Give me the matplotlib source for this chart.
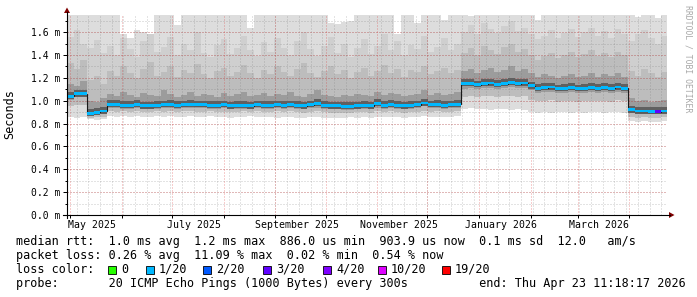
import datetime as dt
import numpy as np
import pandas as pd
import matplotlib
matplotlib.use("Agg")
import matplotlib.pyplot as plt
import matplotlib.dates as mdates
from matplotlib.patches import Polygon, Rectangle
from matplotlib.lines import Line2D

# ---------------- data (milliseconds), one sample per 4 days ----------------
series_start = dt.datetime(2025, 4, 29, 4, 0)
series_end = dt.datetime(2026, 4, 23, 11, 18, 17)
step_days = 4

median = [1.04, 1.06, 1.06, 0.89, 0.90, 0.91, 0.97, 0.97, 0.96, 0.96,
          0.97, 0.955, 0.955, 0.96, 0.965, 0.97, 0.96, 0.965, 0.97, 0.965,
          0.965, 0.96, 0.96, 0.965, 0.955, 0.96, 0.96, 0.955, 0.965, 0.96,
          0.96, 0.965, 0.96, 0.965, 0.96, 0.955, 0.965, 0.975, 0.96, 0.955,
          0.955, 0.95, 0.95, 0.955, 0.96, 0.955, 0.975, 0.96, 0.97, 0.96,
          0.955, 0.96, 0.965, 0.98, 0.965, 0.97, 0.96, 0.965, 0.97, 1.15,
          1.15, 1.14, 1.15, 1.155, 1.145, 1.15, 1.16, 1.15, 1.155, 1.13,
          1.11, 1.115, 1.12, 1.105, 1.11, 1.115, 1.105, 1.11, 1.115, 1.11,
          1.115, 1.11, 1.12, 1.11, 0.92, 0.91, 0.91, 0.905, 0.905, 0.91]

loss = [1] * 88 + [3, 1]

ping_min = [0.86, 0.85, 0.86, 0.84, 0.83, 0.84, 0.87, 0.86, 0.87, 0.86,
            0.87, 0.86, 0.86, 0.87, 0.86, 0.87, 0.86, 0.86, 0.87, 0.86,
            0.86, 0.87, 0.86, 0.86, 0.85, 0.86, 0.86, 0.87, 0.86, 0.86,
            0.86, 0.85, 0.86, 0.86, 0.85, 0.85, 0.86, 0.86, 0.85, 0.85,
            0.85, 0.85, 0.86, 0.85, 0.86, 0.85, 0.86, 0.86, 0.86, 0.86,
            0.85, 0.86, 0.86, 0.87, 0.86, 0.86, 0.86, 0.86, 0.87, 0.93,
            0.94, 0.93, 0.93, 0.92, 0.93, 0.93, 0.92, 0.93, 0.92, 0.90,
            0.89, 0.90, 0.89, 0.90, 0.90, 0.89, 0.90, 0.89, 0.90, 0.90,
            0.89, 0.90, 0.90, 0.89, 0.82, 0.81, 0.82, 0.81, 0.81, 0.82]

ping_lo = [0.95, 0.96, 0.96, 0.85, 0.86, 0.86, 0.91, 0.90, 0.91, 0.90,
           0.91, 0.90, 0.90, 0.91, 0.90, 0.91, 0.90, 0.91, 0.91, 0.90,
           0.90, 0.91, 0.90, 0.90, 0.90, 0.90, 0.91, 0.90, 0.91, 0.90,
           0.90, 0.91, 0.90, 0.91, 0.90, 0.89, 0.90, 0.91, 0.90, 0.89,
           0.89, 0.89, 0.89, 0.90, 0.90, 0.89, 0.91, 0.90, 0.91, 0.90,
           0.89, 0.90, 0.90, 0.91, 0.90, 0.91, 0.90, 0.90, 0.91, 1.03,
           1.04, 1.03, 1.04, 1.04, 1.03, 1.04, 1.04, 1.03, 1.04, 1.01,
           1.00, 1.00, 1.01, 0.99, 1.00, 1.00, 0.99, 1.00, 1.00, 1.00,
           1.00, 0.99, 1.01, 1.00, 0.86, 0.85, 0.86, 0.85, 0.85, 0.86]

ping_lo2 = [1.01, 1.03, 1.03, 0.87, 0.88, 0.88, 0.94, 0.94, 0.93, 0.93,
            0.94, 0.93, 0.93, 0.93, 0.94, 0.94, 0.93, 0.94, 0.94, 0.94,
            0.94, 0.93, 0.93, 0.94, 0.93, 0.93, 0.93, 0.93, 0.94, 0.93,
            0.93, 0.94, 0.93, 0.94, 0.93, 0.93, 0.94, 0.94, 0.93, 0.93,
            0.93, 0.92, 0.92, 0.93, 0.93, 0.93, 0.94, 0.93, 0.94, 0.93,
            0.93, 0.93, 0.94, 0.95, 0.94, 0.94, 0.93, 0.94, 0.94, 1.10,
            1.11, 1.10, 1.11, 1.11, 1.10, 1.11, 1.12, 1.11, 1.11, 1.09,
            1.07, 1.08, 1.08, 1.07, 1.07, 1.08, 1.07, 1.07, 1.08, 1.07,
            1.08, 1.07, 1.08, 1.07, 0.89, 0.88, 0.88, 0.88, 0.88, 0.88]

ping_hi1 = [1.15, 1.13, 1.17, 1.00, 0.99, 1.02, 1.06, 1.04, 1.08, 1.05,
            1.03, 1.07, 1.05, 1.04, 1.09, 1.06, 1.03, 1.05, 1.08, 1.04,
            1.06, 1.05, 1.03, 1.07, 1.04, 1.06, 1.08, 1.04, 1.05, 1.07,
            1.04, 1.06, 1.05, 1.08, 1.04, 1.03, 1.06, 1.09, 1.05, 1.04,
            1.03, 1.05, 1.04, 1.06, 1.05, 1.04, 1.08, 1.05, 1.07, 1.06,
            1.04, 1.05, 1.06, 1.09, 1.05, 1.07, 1.05, 1.06, 1.08, 1.26,
            1.28, 1.24, 1.27, 1.29, 1.25, 1.27, 1.30, 1.26, 1.28, 1.24,
            1.21, 1.23, 1.22, 1.20, 1.22, 1.23, 1.21, 1.22, 1.24, 1.21,
            1.23, 1.22, 1.24, 1.21, 1.02, 1.00, 1.01, 0.99, 1.00, 1.01]

ping_hi2 = [1.33, 1.28, 1.36, 1.18, 1.22, 1.15, 1.26, 1.22, 1.30, 1.24,
            1.20, 1.28, 1.34, 1.22, 1.25, 1.30, 1.21, 1.27, 1.24, 1.32,
            1.23, 1.20, 1.26, 1.29, 1.22, 1.25, 1.31, 1.24, 1.20, 1.27,
            1.23, 1.30, 1.25, 1.22, 1.28, 1.33, 1.24, 1.21, 1.26, 1.30,
            1.23, 1.27, 1.20, 1.25, 1.29, 1.22, 1.26, 1.31, 1.24, 1.28,
            1.21, 1.27, 1.25, 1.30, 1.23, 1.26, 1.29, 1.24, 1.27, 1.42,
            1.46, 1.40, 1.48, 1.44, 1.41, 1.47, 1.50, 1.43, 1.45, 1.40,
            1.36, 1.39, 1.42, 1.37, 1.40, 1.43, 1.38, 1.41, 1.44, 1.39,
            1.42, 1.38, 1.43, 1.40, 1.26, 1.22, 1.28, 1.24, 1.21, 1.25]

ping_hi3 = [1.56, 1.62, 1.50, 1.46, 1.53, 1.42, 1.48, 1.40, 1.55, 1.45,
            1.38, 1.52, 1.58, 1.43, 1.47, 1.56, 1.40, 1.50, 1.44, 1.60,
            1.42, 1.38, 1.49, 1.54, 1.41, 1.46, 1.57, 1.44, 1.39, 1.51,
            1.43, 1.55, 1.46, 1.40, 1.52, 1.60, 1.45, 1.39, 1.48, 1.56,
            1.42, 1.50, 1.38, 1.46, 1.54, 1.41, 1.48, 1.58, 1.44, 1.52,
            1.40, 1.49, 1.45, 1.57, 1.43, 1.47, 1.55, 1.44, 1.50, 1.60,
            1.66, 1.58, 1.68, 1.63, 1.59, 1.65, 1.70, 1.61, 1.64, 1.58,
            1.54, 1.57, 1.62, 1.55, 1.59, 1.63, 1.56, 1.60, 1.64, 1.57,
            1.61, 1.55, 1.63, 1.58, 1.52, 1.58, 1.62, 1.55, 1.50, 1.57]

ping_max = [1.80, 1.80, 1.80, 1.80, 1.80, 1.80, 1.80, 1.80, 1.58, 1.55,
            1.62, 1.60, 1.58, 1.80, 1.80, 1.80, 1.66, 1.80, 1.80, 1.80,
            1.80, 1.80, 1.80, 1.80, 1.80, 1.80, 1.80, 1.64, 1.80, 1.80,
            1.80, 1.80, 1.80, 1.80, 1.80, 1.80, 1.80, 1.80, 1.80, 1.68,
            1.67, 1.69, 1.70, 1.80, 1.80, 1.80, 1.80, 1.80, 1.80, 1.58,
            1.80, 1.80, 1.68, 1.80, 1.80, 1.80, 1.71, 1.80, 1.80, 1.80,
            1.74, 1.80, 1.80, 1.80, 1.80, 1.80, 1.80, 1.80, 1.80, 1.80,
            1.71, 1.80, 1.80, 1.80, 1.80, 1.80, 1.80, 1.80, 1.80, 1.80,
            1.80, 1.80, 1.80, 1.80, 1.80, 1.73, 1.80, 1.80, 1.72, 1.80]

y_ticks = [0.0, 0.2, 0.4, 0.6, 0.8, 1.0, 1.2, 1.4, 1.6]
x_label_months = ["2025-05", "2025-07", "2025-09", "2025-11", "2026-01", "2026-03"]

loss_levels = [0, 1, 2, 3, 4, 10, 19]
loss_labels = ["0", "1/20", "2/20", "3/20", "4/20", "10/20", "19/20"]
loss_colors = ["#26ff00", "#00b8ff", "#0059ff", "#5e00ff", "#7e00ff", "#dd00ff", "#ff0000"]

legend_lines = [
    "median rtt:  1.0 ms avg  1.2 ms max  886.0 us min  903.9 us now  0.1 ms sd  12.0   am/s",
    "packet loss: 0.26 % avg  11.09 % max  0.02 % min  0.54 % now",
]
probe_line = "probe:       20 ICMP Echo Pings (1000 Bytes) every 300s          end: Thu Apr 23 11:18:17 2026"

# ---------------- figure ----------------
W, H = 697, 297
MONO = "DejaVu Sans Mono"
plt.rcParams["font.family"] = MONO
plt.rcParams["lines.scale_dashes"] = False

fig = plt.figure(figsize=(W / 100, H / 100), dpi=100)
fig.patch.set_facecolor("white")


def fx(px):
    return px / W


def fy(py):
    return 1 - py / H


ax = fig.add_axes([fx(67), fy(215), 600 / W, 200 / H])
ax.set_facecolor("white")

n = len(median)
edges = mdates.date2num([series_start + dt.timedelta(days=step_days * i) for i in range(n + 1)])
a = lambda v: np.asarray(v, dtype=float)

# smoke
ax.stairs(a(ping_max), edges, baseline=a(ping_min), fill=True, color="#dddddd", lw=0, zorder=1)
ax.stairs(a(ping_hi3), edges, baseline=a(ping_lo), fill=True, color="#cfcfcf", lw=0, zorder=1.1)
ax.stairs(a(ping_hi2), edges, baseline=a(ping_lo), fill=True, color="#bdbdbd", lw=0, zorder=1.2)
ax.stairs(a(ping_hi1), edges, baseline=a(ping_lo2), fill=True, color="#9c9c9c", lw=0, zorder=1.3)

# grid: 1 px dots with 2 px gaps (pattern given in points, 0.72 pt = 1 px)
minor_col = (0.45, 0.45, 0.45, 0.4)
major_col = (0.85, 0.15, 0.15, 0.45)
dot = (0, (0.72, 1.44))
ymax = 1.75
grid_kw = dict(lw=0.72, ls=dot)
for w in pd.date_range("2025-04-28", "2026-04-20", freq="W-MON"):
    ax.axvline(mdates.date2num(w), color=minor_col, zorder=3, **grid_kw)
for v in np.arange(0.1, ymax, 0.1):
    ax.axhline(v, color=minor_col, zorder=3, **grid_kw)
months = pd.date_range("2025-05-01", "2026-04-01", freq="MS")
for m in months:
    ax.axvline(mdates.date2num(m), color=major_col, zorder=3.1, **grid_kw)
for v in y_ticks[1:]:
    ax.axhline(v, color=major_col, zorder=3.1, **grid_kw)

# median: dark core, thin connecting line, loss-coloured bars
med = a(median)
core_hw = 0.03
hw = 0.0125
ax.bar(edges[:-1], 2 * core_hw, bottom=med - core_hw * 0.8, width=np.diff(edges), align="edge",
       color="#606060", lw=0, zorder=3.5)
ax.stairs(med, edges, baseline=None, color="#1a1a1a", lw=0.8, zorder=4.5)
bar_cols = [loss_colors[loss_levels.index(l)] for l in loss]
ax.bar(edges[:-1], 2 * hw, bottom=med - hw, width=np.diff(edges), align="edge",
       color=bar_cols, lw=0, zorder=5)

ax.set_xlim(mdates.date2num(series_start), mdates.date2num(series_end))
ax.set_ylim(0, ymax)
for s in ax.spines.values():
    s.set_visible(False)

ax.set_yticks(y_ticks)
ax.set_yticklabels([f"{v:.1f} m" for v in y_ticks], fontsize=7, family=MONO)
ax.set_yticks(np.arange(0.1, 1.75, 0.2), minor=True)
ax.tick_params(axis="y", which="major", length=2.9, width=0.72, pad=2.2, color="black")
ax.tick_params(axis="y", which="minor", length=1.5, width=0.72, color="black")
ax.set_xticks(mdates.date2num(months))
ax.set_xticklabels([])
ax.tick_params(axis="x", which="major", length=2.2, width=0.72, color="black")

xt = ax.get_xaxis_transform()
for m in x_label_months:
    d = pd.Timestamp(m + "-01")
    ax.text(mdates.date2num(d + pd.Timedelta(days=13)), (215 - 227.5) / 200, d.strftime("%B %Y"),
            transform=xt, ha="center", va="baseline", fontsize=7.1, family=MONO, clip_on=False)

# axes lines and arrows
fig.add_artist(Line2D([fx(62.5), fx(670)], [fy(215), fy(215)], color="black", lw=0.8))
fig.add_artist(Line2D([fx(67), fx(67)], [fy(218), fy(12)], color="black", lw=0.8))
arrow_col = "#7f0000"
fig.add_artist(Polygon([[fx(674.5), fy(215)], [fx(669), fy(212)], [fx(669), fy(218)]],
                       closed=True, color=arrow_col, lw=0))
fig.add_artist(Polygon([[fx(67), fy(7.5)], [fx(64), fy(13)], [fx(70), fy(13)]],
                       closed=True, color=arrow_col, lw=0))

# labels
fig.text(fx(10), fy(114), "Seconds", rotation=90, ha="center", va="center", fontsize=8.5, family=MONO)
fig.text(fx(688), fy(59), "RRDTOOL / TOBI OETIKER", rotation=270, ha="center", va="center",
         fontsize=5.9, family=MONO, color="#a8a8a8")

# legend
fig.text(fx(16), fy(244.5), legend_lines[0], ha="left", va="baseline", fontsize=8.5, family=MONO)
fig.text(fx(16), fy(258.5), legend_lines[1], ha="left", va="baseline", fontsize=8.5, family=MONO)
fig.text(fx(16), fy(273), "loss color:", ha="left", va="baseline", fontsize=8.5, family=MONO)
sq_x = [108, 146, 203, 263, 323, 378, 442]
for x0, lab, col in zip(sq_x, loss_labels, loss_colors):
    fig.add_artist(Rectangle((fx(x0), fy(274)), 8 / W, 8 / H, facecolor=col,
                             edgecolor="black", lw=0.6))
    fig.text(fx(x0 + 13), fy(273), lab, ha="left", va="baseline", fontsize=8.5, family=MONO)
fig.text(fx(16), fy(287), probe_line, ha="left", va="baseline", fontsize=8.5, family=MONO)

fig.savefig("out.png", dpi=100, facecolor="white")
